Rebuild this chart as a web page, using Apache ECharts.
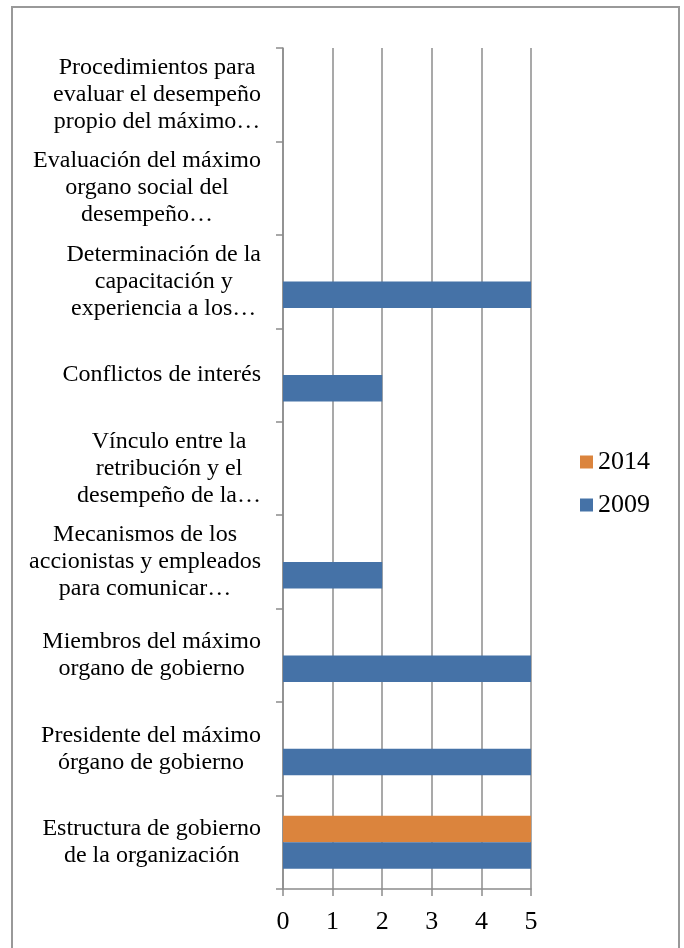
<!DOCTYPE html>
<html>
<head>
<meta charset="utf-8">
<script src="https://cdn.jsdelivr.net/npm/echarts@6/dist/echarts.min.js"></script>
<style>
  html, body { margin: 0; padding: 0; background: #fff; }
  #main { width: 684px; height: 948px; }
</style>
</head>
<body>
<div id="main"></div>
<script>
// categorias (de abajo hacia arriba, como en el eje)
var categorias = [
  'Estructura de gobierno\nde la organización',
  'Presidente del máximo\nórgano de gobierno',
  'Miembros del máximo\norgano de gobierno',
  'Mecanismos de los\naccionistas y empleados\npara comunicar…',
  'Vínculo entre la\nretribución y el\ndesempeño de la…',
  'Conflictos de interés',
  'Determinación de la\ncapacitación y\nexperiencia a los…',
  'Evaluación del máximo\norgano social del\ndesempeño…',
  'Procedimientos para\nevaluar el desempeño\npropio del máximo…'
];
var datos2009 = [5, 5, 5, 2, 0, 2, 5, 0, 0];
var datos2014 = [5, 0, 0, 0, 0, 0, 0, 0, 0];
var ticksX = [0, 1, 2, 3, 4, 5];

var fuente = 'Liberation Serif';
var gris = '#8c8c8c';

var myChart = echarts.init(document.getElementById('main'));

var option = {
  backgroundColor: '#fff',
  textStyle: { fontFamily: fuente, color: '#000' },
  graphic: [{
    type: 'rect',
    shape: { x: 12, y: 7, width: 667, height: 945 },
    style: { fill: 'none', stroke: '#999', lineWidth: 2 },
    silent: true
  }],
  legend: {
    orient: 'vertical',
    left: 575,
    top: 444,
    itemWidth: 13,
    itemHeight: 13,
    itemGap: 17,
    icon: 'rect',
    data: ['2014', '2009'],
    textStyle: { fontFamily: fuente, fontSize: 26, color: '#000' }
  },
  grid: { left: 283, right: 153, top: 48, bottom: 59, containLabel: false },
  xAxis: {
    type: 'value',
    min: ticksX[0],
    max: ticksX[ticksX.length - 1],
    interval: 1,
    axisLine: { show: true, lineStyle: { color: gris, width: 1.5 } },
    axisTick: { show: true, length: 7, lineStyle: { color: gris, width: 1.5 } },
    splitLine: { show: true, lineStyle: { color: gris, width: 1.5 } },
    axisLabel: { fontFamily: fuente, fontSize: 26, color: '#000', margin: 20 }
  },
  yAxis: {
    type: 'category',
    data: categorias,
    axisLine: { show: true, lineStyle: { color: gris, width: 1.5 } },
    axisTick: { show: true, length: 7, lineStyle: { color: gris, width: 1.5 } },
    splitLine: { show: false },
    axisLabel: {
      margin: 22,
      align: 'right',
      fontFamily: fuente,
      fontSize: 24,
      lineHeight: 27,
      color: '#000',
      formatter: function (v) {
        return v.split('\n').map(function (l) { return '{c|' + l + '}'; }).join('\n');
      },
      rich: {
        c: { align: 'center', fontFamily: fuente, fontSize: 24, lineHeight: 27, color: '#000' }
      }
    }
  },
  series: [
    {
      name: '2014',
      type: 'bar',
      data: datos2014,
      barWidth: 26.5,
      barGap: '0%',
      itemStyle: { color: '#DB843D' }
    },
    {
      name: '2009',
      type: 'bar',
      data: datos2009,
      barWidth: 26.5,
      barGap: '0%',
      itemStyle: { color: '#4572A7' }
    }
  ]
};

myChart.setOption(option);
</script>
</body>
</html>
